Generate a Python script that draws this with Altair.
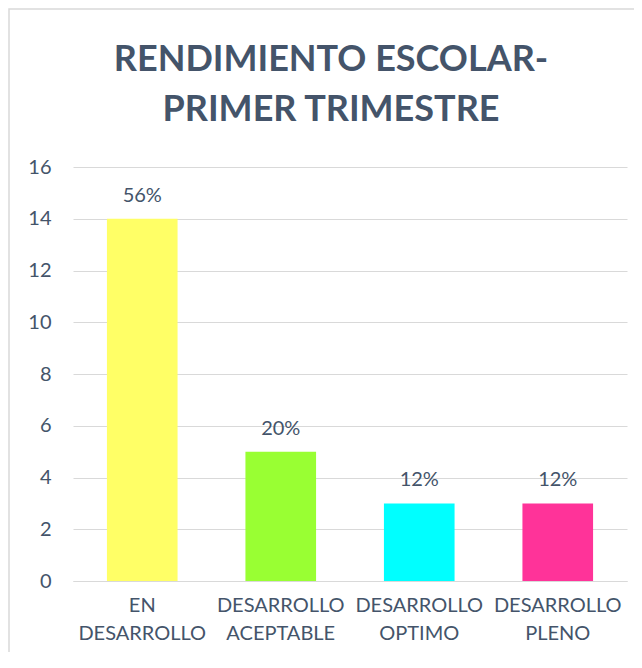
import altair as alt
import pandas as pd

categories = ["EN DESARROLLO", "DESARROLLO ACEPTABLE", "DESARROLLO OPTIMO", "DESARROLLO PLENO"]
values = [14, 5, 3, 3]
labels = ["56%", "20%", "12%", "12%"]
colors = ["#FFFF66", "#99FF33", "#00FFFF", "#FF3399"]

df = pd.DataFrame({"cat": categories, "val": values, "lab": labels})

FONT = "Lato"
TXT = "#44546A"

x = alt.X("cat:N", sort=categories, title=None,
          scale=alt.Scale(paddingInner=0.49, paddingOuter=0.245),
          axis=alt.Axis(labelAngle=0, labelExpr="split(datum.label, ' ')",
                        labelFont=FONT, labelFontSize=20, labelColor=TXT,
                        labelLineHeight=28, labelPadding=14, ticks=False,
                        domainColor="#D9D9D9", domainWidth=1, labelBaseline="top"))
y = alt.Y("val:Q", title=None,
          scale=alt.Scale(domain=[0, 16]),
          axis=alt.Axis(values=[0, 2, 4, 6, 8, 10, 12, 14, 16], ticks=False, domain=False,
                        labelFont=FONT, labelFontSize=20, labelColor=TXT, labelPadding=22,
                        gridColor="#D9D9D9", gridWidth=1))

bars = alt.Chart(df).mark_bar().encode(
    x=x, y=y,
    color=alt.Color("cat:N", sort=categories, scale=alt.Scale(domain=categories, range=colors), legend=None),
)

text = alt.Chart(df).mark_text(font=FONT, fontSize=20, color=TXT, dy=-17, baseline="alphabetic").encode(
    x=alt.X("cat:N", sort=categories), y="val:Q", text="lab:N"
)

border = alt.Chart(pd.DataFrame({"a": [0]})).mark_rect(
    fill=None, stroke="#D9D9D9", strokeWidth=1.5, clip=False
).encode(x=alt.value(-64), x2=alt.value(700), y=alt.value(-158), y2=alt.value(560))

chart = alt.layer(border, bars, text).properties(
    width=554, height=414,
    padding={"left": 65, "top": 159, "right": 7, "bottom": 71},
    autosize=alt.AutoSizeParams(type="none"),
    title=alt.Title(["RENDIMIENTO ESCOLAR-", "PRIMER TRIMESTRE"], font=FONT, fontSize=36,
                    fontWeight="bold", color=TXT, lineHeight=50, anchor="middle",
                    frame="group", dx=-19, offset=-121),
).configure_view(stroke=None)

chart.save("out.html", embed_options={"renderer": "svg", "actions": False})
